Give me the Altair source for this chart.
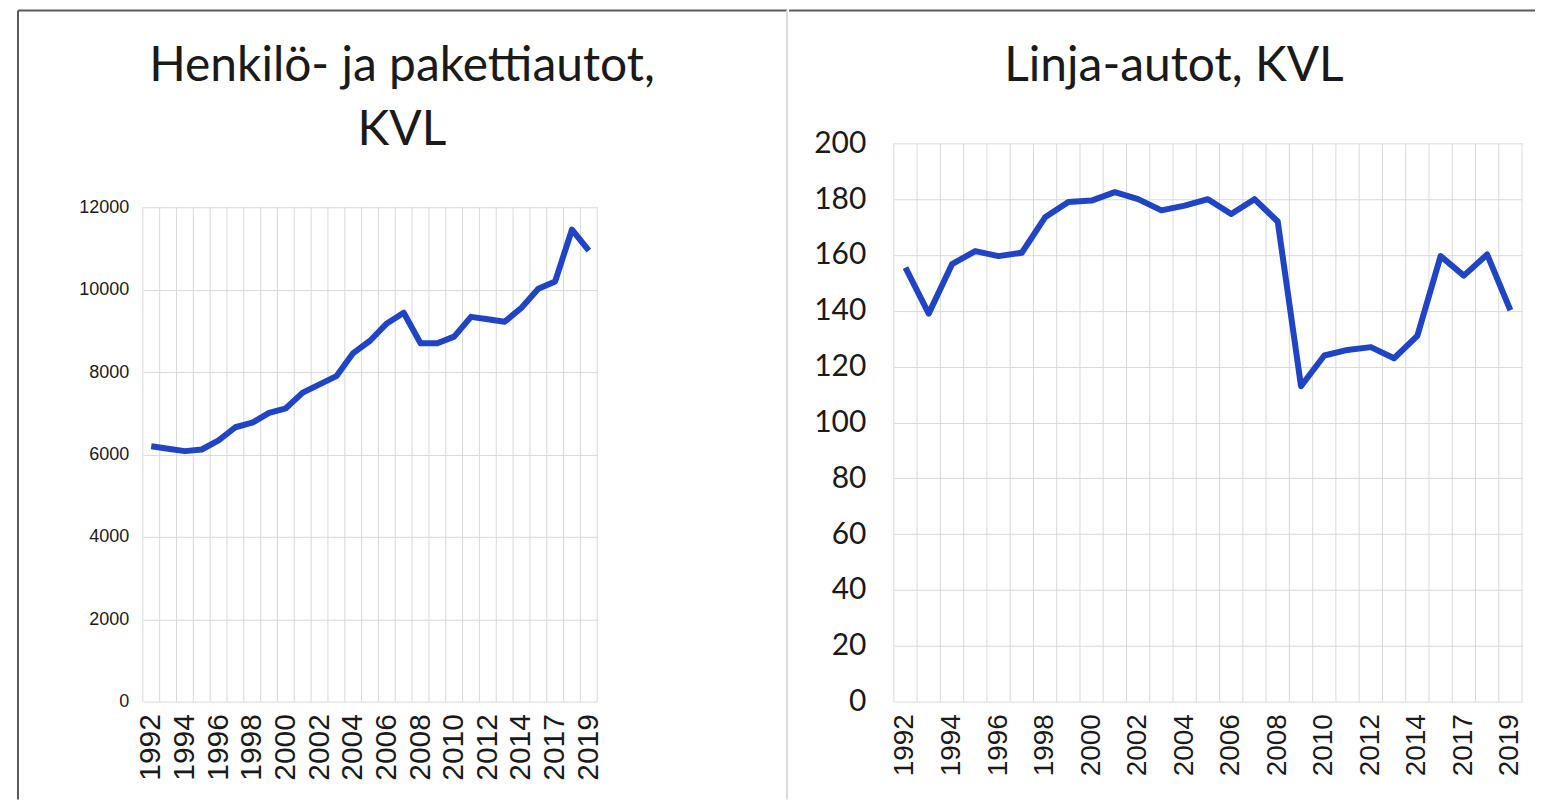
import altair as alt
import pandas as pd

years = ["1992", "1993", "1994", "1995", "1996", "1997", "1998", "1999", "2000",
         "2001", "2002", "2003", "2004", "2005", "2006", "2007", "2008", "2009",
         "2010", "2011", "2012", "2013", "2014", "2015", "2017", "2018", "2019"]
labeled_years = ["1992", "1994", "1996", "1998", "2000", "2002", "2004", "2006",
                 "2008", "2010", "2012", "2014", "2017", "2019"]

cars = [6200, 6140, 6080, 6120, 6340, 6660, 6770, 7010, 7120, 7500, 7700, 7900,
        8460, 8760, 9180, 9440, 8700, 8700, 8860, 9340, 9280, 9220, 9560, 10020,
        10200, 11460, 10950]
buses = [155.5, 139, 156.7, 161.4, 159.6, 160.8, 173.5, 179, 179.5, 182.5, 180,
         176, 177.7, 180, 174.7, 180, 172, 113, 124, 126, 127, 123, 131, 159.6,
         152.6, 160.2, 140.2]

cars_ticks = [0, 2000, 4000, 6000, 8000, 10000, 12000]
buses_ticks = [0, 20, 40, 60, 80, 100, 120, 140, 160, 180, 200]

df_cars = pd.DataFrame({"year": years, "value": cars})
df_buses = pd.DataFrame({"year": years, "value": buses})
one = pd.DataFrame({"k": [0]})

LINE = "#1f44c6"
GRID = "#d9d9d9"
FRAME = "#5a5a5a"
DIVIDER = "#dcdcdc"
PANEL_H = 559          # both panels share the same frame height
LEFT_PLOT_H = 495      # visible gridded height of the left panel
label_expr = "indexof(" + str(labeled_years) + ", datum.value) >= 0 ? datum.value : ''"


def rule(color, w, x, x2, y, y2):
    return alt.Chart(one).mark_rule(color=color, strokeWidth=w).encode(
        x=alt.value(x), x2=alt.value(x2), y=alt.value(y), y2=alt.value(y2))


def panel(df, ticks, title, width, grid_h, y_font, y_size, y_pad, x_size,
          offset, dx, line_h, frame_layers):
    top = ticks[-1] * PANEL_H / grid_h
    x_axis = alt.Axis(grid=False, ticks=False, domain=False, labelAngle=270,
                      labelFontSize=x_size, labelFont="Liberation Sans",
                      labelColor="#1a1a1a", labelPadding=12,
                      labelExpr=label_expr, labelOverlap=False,
                      labelBaseline="middle", labelAlign="right")
    x_scale = alt.Scale(type="band", paddingInner=0, paddingOuter=0)

    def xenc(bp):
        return alt.X("year:O", sort=years, title=None, scale=x_scale,
                     axis=x_axis, bandPosition=bp)

    y = alt.Y("value:Q", title=None,
              scale=alt.Scale(domain=[ticks[0], top], nice=False),
              axis=alt.Axis(values=ticks, grid=True, gridColor=GRID, gridWidth=1,
                            ticks=False, domain=False, labelFontSize=y_size,
                            format="d",
                            labelFont=y_font, labelColor="#1a1a1a", labelPadding=y_pad))
    base = alt.Chart(df)
    vgrid = base.mark_rule(color=GRID, strokeWidth=1).encode(
        x=xenc(0), y=alt.datum(ticks[0]), y2=alt.datum(ticks[-1]))
    vgrid_end = base.transform_filter(
        alt.datum.year == years[-1]
    ).mark_rule(color=GRID, strokeWidth=1).encode(
        x=xenc(1), y=alt.datum(ticks[0]), y2=alt.datum(ticks[-1]))
    line = base.mark_line(color=LINE, strokeWidth=6, strokeJoin="round").encode(
        x=xenc(0.5), y=y)
    return alt.layer(vgrid, vgrid_end, line, *frame_layers).properties(
        width=width, height=PANEL_H,
        title=alt.TitleParams(text=title, fontSize=48, font="Lato", fontWeight="normal",
                              color="#1a1a1a", anchor="middle", frame="group",
                              lineHeight=line_h, offset=offset, dx=dx)
    )


# decorative frame of the original picture (panel-relative pixels)
left_frame = [
    rule(FRAME, 2, -125, -125, -133, 657),
    rule(FRAME, 2, -125, 645, -133, -133),
    rule(DIVIDER, 2, 645, 645, -133, 657),
]
right_frame = [
    rule(FRAME, 2, -105, 642, -133, -133),
]

left = panel(df_cars, cars_ticks, ["Henkilö- ja pakettiautot,", "KVL"],
             455, LEFT_PLOT_H, "Liberation Sans", 18, 14, 30, -146, 32, 64, left_frame)
right = panel(df_buses, buses_ticks, "Linja-autot, KVL",
              629, PANEL_H, "Lato", 30, 28, 28, -82, -34, 63, right_frame)

chart = alt.concat(left, right, columns=2, spacing=0, align="none").properties(
    padding={"left": 9, "top": 1, "right": 0, "bottom": 0},
    background="white"
).configure_view(stroke=None)

chart.save("out.html", embed_options={"renderer": "svg", "actions": False})
